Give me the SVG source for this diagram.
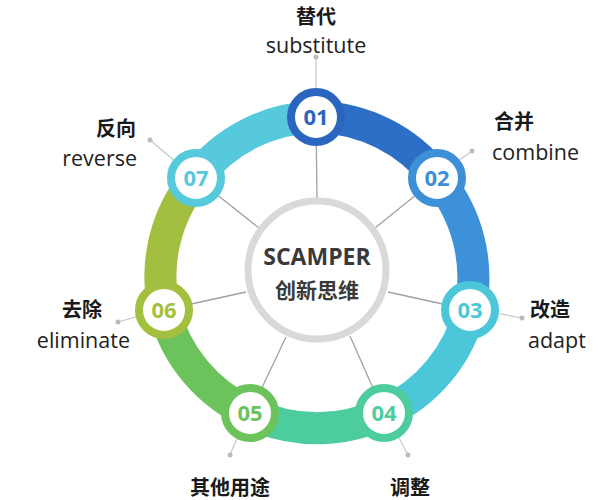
<svg xmlns="http://www.w3.org/2000/svg" width="609" height="500" viewBox="0 0 609 500">
<style>
.seg{fill:none;stroke-width:32}
.spoke{stroke:#9aa3a8;stroke-width:1.3}
.lead{stroke:#c4c8cc;stroke-width:1.2}
.dot{fill:#b8bcc0}
.node circle{fill:#fff;stroke-width:8}
.num{font-family:"Open Sans","Liberation Sans",sans-serif;font-weight:700;font-size:22px;text-anchor:middle}
.zh{font-family:"Noto Sans CJK SC",sans-serif;font-weight:700;font-size:20px;fill:#1a1a1a}
.en{font-family:"Open Sans","Liberation Sans",sans-serif;font-size:21.5px;fill:#222}
</style>
<rect width="609" height="500" fill="#fff"/>
<g id="ring">
<path class="seg" stroke="#2d6ec6" d="M316,117 A155,155 0 0 1 437,178"/>
<path class="seg" stroke="#3d91d8" d="M437,178 A155,155 0 0 1 470,310"/>
<path class="seg" stroke="#4cc7da" d="M470,310 A155,155 0 0 1 384,413"/>
<path class="seg" stroke="#4dcd9e" d="M384,413 A155,155 0 0 1 250,413"/>
<path class="seg" stroke="#6cc35c" d="M250,413 A155,155 0 0 1 164,310"/>
<path class="seg" stroke="#a3bf40" d="M164,310 A155,155 0 0 1 196,178"/>
<path class="seg" stroke="#56c9dc" d="M196,178 A155,155 0 0 1 316,117"/>
</g>
<g id="connectors">
<line class="spoke" x1="317" y1="200" x2="316" y2="117"/>
<line class="spoke" x1="375" y1="228" x2="437" y2="178"/>
<line class="spoke" x1="388" y1="292" x2="470" y2="310"/>
<line class="spoke" x1="350" y1="336" x2="384" y2="413"/>
<line class="spoke" x1="286" y1="337" x2="250" y2="413"/>
<line class="spoke" x1="246" y1="292" x2="164" y2="310"/>
<line class="spoke" x1="259" y1="228" x2="196" y2="178"/>
<line class="lead" x1="316" y1="57" x2="316" y2="92"/><circle class="dot" cx="316" cy="57" r="2.5"/>
<line class="lead" x1="472" y1="151" x2="455" y2="163"/><circle class="dot" cx="472" cy="151" r="2.5"/>
<line class="lead" x1="522" y1="318" x2="496" y2="313"/><circle class="dot" cx="522" cy="318" r="2.5"/>
<line class="lead" x1="408" y1="455" x2="398" y2="436"/><circle class="dot" cx="408" cy="455" r="2.5"/>
<line class="lead" x1="230" y1="455" x2="238" y2="436"/><circle class="dot" cx="230" cy="455" r="2.5"/>
<line class="lead" x1="118" y1="322" x2="139" y2="316"/><circle class="dot" cx="118" cy="322" r="2.5"/>
<line class="lead" x1="150" y1="140" x2="176" y2="162"/><circle class="dot" cx="150" cy="140" r="2.5"/>
</g>
<g id="center">
<circle cx="317" cy="270" r="69" fill="#fff" stroke="#d9d9d9" stroke-width="7"/>
<text x="317" y="265" text-anchor="middle" font-family="Open Sans,Liberation Sans,sans-serif" font-weight="700" font-size="23" fill="#3a3a3a">SCAMPER</text>
<text x="317" y="298" text-anchor="middle" font-family="Noto Sans CJK SC,sans-serif" font-weight="700" font-size="21" fill="#3a3a3a">创新思维</text>
</g>
<g id="n01" class="node"><circle cx="316" cy="117" r="25" stroke="#2a66c0"/><text class="num" x="316" y="125" fill="#2a66c0">01</text>
<text class="zh" x="316" y="24" text-anchor="middle">替代</text><text class="en" x="316" y="53" text-anchor="middle">substitute</text></g>
<g id="n02" class="node"><circle cx="437" cy="178" r="25" stroke="#3d8fd6"/><text class="num" x="437" y="186" fill="#3d8fd6">02</text>
<text class="zh" x="494" y="129">合并</text><text class="en" x="492" y="160">combine</text></g>
<g id="n03" class="node"><circle cx="470" cy="310" r="25" stroke="#4cc7da"/><text class="num" x="470" y="318" fill="#4cc7da">03</text>
<text class="zh" x="530" y="317">改造</text><text class="en" x="528" y="348">adapt</text></g>
<g id="n04" class="node"><circle cx="384" cy="413" r="25" stroke="#4dcd9e"/><text class="num" x="384" y="421" fill="#4dcd9e">04</text>
<text class="zh" x="410" y="495" text-anchor="middle">调整</text></g>
<g id="n05" class="node"><circle cx="250" cy="413" r="25" stroke="#6cc35c"/><text class="num" x="250" y="421" fill="#6cc35c">05</text>
<text class="zh" x="230" y="495" text-anchor="middle">其他用途</text></g>
<g id="n06" class="node"><circle cx="164" cy="310" r="25" stroke="#a3bf40"/><text class="num" x="164" y="318" fill="#a3bf40">06</text>
<text class="zh" x="102" y="317" text-anchor="end">去除</text><text class="en" x="130" y="348" text-anchor="end">eliminate</text></g>
<g id="n07" class="node"><circle cx="196" cy="178" r="25" stroke="#56c9dc"/><text class="num" x="196" y="186" fill="#56c9dc">07</text>
<text class="zh" x="136" y="136" text-anchor="end">反向</text><text class="en" x="137" y="166" text-anchor="end">reverse</text></g>
</svg>
